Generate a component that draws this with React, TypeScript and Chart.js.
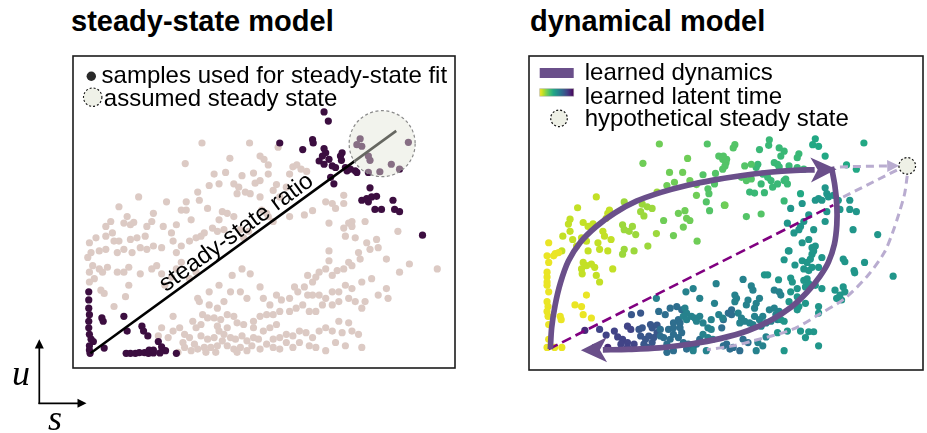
import React, { useEffect, useRef } from "react";
import { Chart, registerables } from "chart.js";

Chart.register(...registerables);

type P = [number, number];

// ================= steady-state model (left panel) =================
// coordinates: s (spliced, x) and u (unspliced, y), arbitrary units
const steadyFitSamples: P[] = [
  [79.5, 79], [80.8, 76.2], [66, 69.5], [76, 70.5], [76.2, 69.5], [73, 67.5], [79.5, 67.8], [80, 66.5],
  [79, 65.5], [78, 64], [81, 64.5], [79.5, 63], [82, 62.5], [85, 66.5], [84.5, 65.5], [84.8, 64.2],
  [83, 62], [86, 62], [86.5, 61], [87.5, 61.5], [89, 61], [89.5, 60.5], [93, 60.5], [81.5, 59], [82.5, 57],
  [90.5, 70.8], [89.5, 69], [91, 68.5], [93, 65.5], [93.5, 64.2], [100, 63], [96.5, 60.7], [102.5, 61.5], [105.2, 69.7],
  [93.5, 55.8], [91, 52], [92.5, 52.5], [94, 53], [95.5, 53.2], [93, 51.5], [100.5, 52], [95, 49.2], [97, 49.2],
  [101, 49.2], [102.5, 48.5], [109.5, 41.3],
  [7.8, 24], [7.8, 21.5], [7.8, 19], [8, 17], [7.8, 15], [7.8, 13], [8, 11], [8.5, 9.5], [9.2, 8.8], [8, 7.5],
  [8, 6.2], [8.2, 5.2], [11.8, 16], [12.2, 15], [12.5, 6.8], [18.5, 16.5], [19.5, 12], [24, 13.5], [24.5, 12],
  [25.8, 10.5], [19.2, 5.2], [20.5, 5.2], [22, 5.2], [23.2, 5.4], [24.8, 5.4], [26, 5.2], [27.5, 5.3], [26.2, 6.2],
  [27.5, 6.2], [29, 8.8], [30, 7.2], [31.2, 6], [29.5, 5.3], [34.5, 5.2],
];

const otherSamples: P[] = [
  [42.3, 69.5], [56.8, 69.5], [65.5, 68.2], [37.2, 63.2], [50.8, 64.8], [60, 65.5], [61.2, 64.5], [62.5, 62.8],
  [70, 62.2], [71.2, 62.8], [72.5, 61.5], [74.2, 60.8], [69, 60], [62.5, 60], [58, 60.3], [54.5, 59.5], [49.5, 60.5],
  [46, 60], [44.5, 56.5], [47.5, 57], [52, 57], [53.5, 56], [55.5, 54.5], [58.5, 57.2], [60, 58], [64, 55], [65, 56.8],
  [68, 56], [66, 53], [60, 53], [57, 54], [53, 54], [41, 54.5], [37.5, 51.5], [41.5, 52], [44, 49.5], [48.5, 48.5],
  [50, 48], [52, 47], [47.5, 46], [36, 49], [37.5, 49], [39, 46], [34.5, 44.5], [33, 42], [30.5, 44], [27.5, 48],
  [27, 45.5], [23, 53], [31.5, 51.5], [17, 50], [19.5, 47], [14.5, 45.5], [13, 44], [18.5, 45], [20.5, 44.5],
  [21.5, 45.2], [25.5, 44], [25, 41], [22.5, 40.5], [20.5, 40], [17, 39.5], [15.5, 39.5], [15, 42], [13, 41],
  [10, 40.5], [8, 39], [7.5, 34.5], [8.5, 36], [11, 36.5], [13, 37], [16.5, 36], [18.5, 37], [21, 36], [23.5, 37.5],
  [25.5, 37], [27.5, 38], [30, 37.5], [33.5, 39.5], [34.5, 36], [36, 38], [38.5, 39.5], [40.5, 40.5], [42, 41],
  [43, 42], [45.5, 43.5], [47, 42.5], [49, 43], [54, 43], [56.5, 42.5], [55, 40.5], [64, 45.5], [60.5, 49], [62, 48],
  [62.5, 47], [69, 47], [73.5, 47.5], [76, 48.8], [80, 51.5], [85.5, 53.5], [85.5, 51], [82, 51], [83, 49.5], [81, 45],
  [85.5, 43.5], [87, 45], [88, 45.5], [88, 44], [86, 41], [89, 40.5], [92, 45.5], [92.5, 39], [93.5, 37], [95.5, 40],
  [96, 37.5], [102, 42.5], [98.5, 34], [102.5, 30], [105.5, 32.5], [114, 31], [90, 36], [90.5, 34], [88, 32], [87, 33],
  [85.5, 31], [83.5, 30.5], [82, 29], [81, 36.5], [81, 33.5], [80, 31], [78, 30], [77, 28.5], [76, 27], [74.5, 29],
  [73.5, 25.5], [71.5, 24], [69, 22], [66.5, 21.5], [65, 23], [63, 20], [61, 22], [60, 25.5], [56, 22], [54, 24],
  [51, 24], [49, 21], [47, 19], [44.5, 20], [41.5, 21], [42.5, 17], [44, 16], [46, 16], [48, 15.5], [50, 17],
  [52, 16.5], [53, 14.5], [55, 14], [58, 15], [60, 16.5], [62, 17], [64, 17], [66, 18], [69, 18], [71, 19], [73, 20],
  [75, 18], [77, 18], [79, 20], [82, 20], [84, 21], [87, 22], [89, 21], [91, 19], [92, 21], [96, 23], [98.5, 25],
  [99, 22], [94, 28], [91, 27], [88, 25], [86, 26], [84, 24], [82, 24], [80, 22], [78, 23], [76, 23], [70.5, 25.5],
  [74.5, 23],
  [32, 10], [33.5, 12], [35.5, 13], [37, 11], [38.5, 10], [40.5, 13], [42, 10.5], [44, 9.5], [46, 10], [47.5, 12],
  [49, 11], [51, 10], [52.5, 9.5], [54.5, 10.5], [56, 9], [58, 10], [59.5, 9.5], [62, 8], [64, 9.5], [66, 10],
  [68, 11], [70, 10.5], [72, 12], [74, 11.5], [76, 10], [78, 12], [80, 13], [82, 12], [85, 11.5], [88, 12], [90, 11],
  [37, 7], [39, 6], [41, 6.5], [43, 7], [45, 7], [47, 7.5], [50, 7.5], [52, 6.5], [54, 7], [56, 6], [60, 6.5], [64, 7],
  [70, 7], [75, 7.5], [80, 6], [91, 7], [61, 12], [63, 13], [65, 14], [58, 13], [50, 13], [47, 13.5], [42, 14],
  [39.5, 15], [33.5, 16.5], [30, 13], [29, 10.5], [15.5, 19.5], [20, 26], [19, 22.5], [18.5, 30], [12, 30], [11, 31],
  [9.5, 28], [11.5, 24.5], [12.5, 23.5], [8, 30], [8, 27], [9, 32], [13.5, 31.5], [16.5, 30], [20, 31.5], [23.5, 29.5],
  [27, 31], [28.5, 32], [30, 29.5], [31, 26], [33, 28.5], [34.5, 31], [36, 33], [38.5, 28], [40.5, 30], [41, 22],
  [44.5, 24], [47.5, 26], [51.5, 29], [54.5, 31], [57, 29.5],
  [35, 5.5], [36.5, 8.5], [40, 8], [43.5, 5.5], [46.5, 5.5], [48.5, 9], [53, 5.5], [57.5, 7.5], [66, 6.5], [68, 8.5],
  [72, 8.5], [77, 7], [83, 8.5], [86, 7.5], [87, 14.5], [84, 15],
];

const steadyStateRatioLine: P[] = [[8.3, 5.2], [101.5, 73.2]];
const assumedSteadyState: P = [97.2, 69.3];

// ================= dynamical model (right panel) =================
// cells grouped by learned latent time (0 = start, 1 = end)
const latentTimes = [0.03, 0.09, 0.15, 0.22, 0.27, 0.33, 0.4, 0.48, 0.56, 0.64, 0.73, 0.8, 0.88];

const cellsT01: P[] = [
  [7.8, 39], [7.3, 35], [9.8, 35.7], [9.3, 35], [10.8, 36], [7.8, 33], [7.3, 30], [7.3, 28.5], [7.3, 27], [7.3, 26],
  [7.8, 24], [7.3, 21], [7.6, 19.5], [7.3, 18], [7.6, 16.5], [7.8, 14], [7.8, 9.5], [7.3, 7], [9.6, 7], [11.8, 7],
  [11.3, 16.5], [11.6, 15.5], [15.8, 20], [17.8, 19.5], [18.3, 17], [20.8, 16], [19.3, 23],
];
const cellsT02: P[] = [
  [22.3, 53], [16.6, 49.7], [26.3, 49], [25.8, 48], [25.3, 46.5], [14.3, 46.2], [13.8, 44.7], [18.3, 45.2], [19.8, 44],
  [21.3, 44.8], [14.3, 42.5], [12.1, 41], [15.1, 40], [17.8, 40.5], [19.3, 39.5], [11.8, 36.5], [24.3, 42.5], [24.8, 41],
  [26.8, 40], [22.8, 39], [23.3, 37], [25.8, 36.5], [16.3, 38], [19.8, 36.5], [18.3, 33], [19.3, 32], [20.8, 32.5],
  [17.8, 31], [18, 29.5], [21.8, 31.5], [22.3, 29], [23.3, 27], [27.3, 31],
];
const cellsT03: P[] = [
  [30.8, 51.5], [36.3, 50.8], [37.8, 50], [39.3, 49.5], [35.8, 48.5], [36.8, 47.2], [40.8, 54.5], [40.6, 41.8], [38, 38],
  [30.3, 44.5], [30.8, 43], [33.3, 44], [34.3, 41.5], [32.3, 42.5], [30.8, 37], [33.8, 36.5], [30.3, 35.5],
];
const cellsT04: P[] = [
  [41.5, 69.2], [36.5, 63.3], [50.1, 64.8], [44.6, 60.5], [48.6, 60.5], [46.1, 57.5], [43.8, 56.5], [50.8, 58],
  [52.8, 56.8], [52.8, 53.5], [42.8, 45.8], [47.3, 48], [49.3, 48.8], [49.8, 46.5], [50.8, 45.8], [48.8, 43.8],
  [45.8, 41.2], [53, 39.5], [61.5, 50.5],
];
const cellsT05: P[] = [
  [56.1, 69.2], [59.6, 65.5], [60.8, 64.5], [61.8, 63.5], [54.8, 59.8], [58.6, 60.2], [60.8, 61.5], [56.3, 55.5],
  [56.6, 54], [58.3, 57], [55.8, 51.5], [56.8, 48.8], [61.3, 50.5], [64.5, 69], [64, 68], [62, 64.5], [61, 65.5],
  [61.5, 62.5], [67.5, 62.5], [69.5, 63], [66.5, 59], [68, 58], [69.5, 58.5], [68, 47], [72.5, 47.8],
];
const cellsT06: P[] = [
  [75, 70.5], [74.8, 68.8], [72, 67.5], [78, 68], [79.5, 67], [78.5, 65.5], [84, 66.2], [83.5, 65], [71, 62], [71.5, 63],
  [76.5, 63.5], [77.5, 63], [78, 62.2], [81, 62.5], [83.5, 62], [85.5, 61.5], [73, 60], [74.5, 59], [75.5, 58], [76, 56],
  [77.5, 57], [79.5, 58], [80.5, 57], [80, 58.5], [72.5, 57], [69, 54.5], [70.5, 54.2], [73.5, 54.3], [79.5, 51.8],
];
const cellsT07: P[] = [
  [89, 70.8], [88.2, 69], [90, 68.5], [92, 65.5], [103.8, 69.5], [98.5, 62.8], [101.5, 61.5], [84.5, 54],
];
const cellsT08: P[] = [
  [92, 55.8], [92.5, 54], [90, 52.5], [89, 52], [91, 52], [93, 53], [94.5, 53.5], [96, 52], [96.5, 49.2], [99.5, 52],
  [99.5, 49.2], [101.5, 48.5], [92, 45.5], [92.5, 48.5], [87, 47.5], [85.5, 45.5], [84.5, 44], [84, 43], [81.5, 49.5],
  [85, 51], [80.5, 45], [82.5, 42], [85, 39], [87, 40], [88.5, 43], [88, 37.5], [89, 38], [88, 35.5], [81, 36.5],
  [100.5, 43], [108, 41.5], [80.8, 36.5], [79.5, 33.8], [82.8, 32.2], [85, 33.5], [85.5, 31], [86.5, 33], [87.5, 34],
  [88, 31.5], [87, 30.5], [88.5, 36.5], [91, 34.5], [90, 31.5], [97.5, 34], [98, 33.2], [104, 33], [100.8, 30.5],
  [101, 29.8], [112.7, 28.8], [73.5, 29.2], [74.5, 29.2], [81.5, 28.2], [82, 27], [77.8, 27.7], [85.5, 27.5], [86.5, 28],
  [86, 25.5], [87, 26.5], [89, 26], [91, 25], [95, 24.5], [95.5, 22], [96.5, 23], [97.5, 25.5], [98, 24], [97, 21.5],
  [81.5, 24], [83.5, 25], [83.5, 22.5], [81, 21], [84, 19.5], [83.5, 18.5], [86, 20.5], [90, 19.5], [90, 17.5],
  [78.5, 15.5], [79.5, 15], [77.5, 11.5], [80.5, 12], [84.5, 12], [86, 10], [87, 11.8], [88.5, 11.8], [90, 7.5], [79.5, 6],
];
const cellsT09: P[] = [
  [67, 27.8], [69.5, 25.8], [70, 24.5], [76.5, 24.5], [78, 24], [78.5, 23], [64.5, 23], [65, 22], [64.5, 21], [68.5, 21.5],
  [68, 20], [71, 20.5], [72, 22], [70.5, 19], [75, 18.5], [76.5, 19], [77, 17], [72, 15.5], [73, 16.5], [72.5, 13.5],
  [74, 14.5], [75.5, 15], [77.5, 15.5], [78, 18], [74, 10.2], [73, 7.5], [71.5, 8.5], [71, 6], [65.5, 17.5], [66.5, 16],
  [66, 14.5], [67.5, 15], [69, 14.5], [70.5, 16.5], [70, 14],
  [49.3, 19], [49.8, 17.5], [48.8, 16.5], [49.8, 15.5], [51.3, 16.5], [52.3, 16], [53.8, 16.5], [52.8, 15], [54.8, 14.5],
  [56.3, 13], [54.8, 11], [57.3, 12.5], [56.3, 10], [57.8, 9.5], [40.6, 22], [49.6, 24], [51.8, 25], [53.8, 22],
  [58.3, 20.5], [58.8, 26.5], [59.6, 17], [57.3, 15.5], [60.8, 16], [55.8, 6], [51.8, 6],
];
const cellsT10: P[] = [
  [63.5, 18.5], [62.5, 17.5], [63.5, 17], [61, 15.5], [60.5, 13], [68.5, 8.5], [67, 9.5], [66, 6], [64, 7], [63, 6.5],
  [62, 8], [61, 7.5], [41.8, 12.5], [41.8, 10.5], [42.8, 10], [43.8, 8], [44.8, 9.5], [45.8, 11], [44.3, 12.5], [45.8, 13],
  [47.8, 13], [48.3, 11.5], [47.3, 10], [48.8, 8.5], [50.3, 8], [51.8, 7], [49.8, 6.5], [52.8, 8], [53.8, 9.5], [41.3, 18],
  [43.3, 17], [44.8, 19], [46.8, 19.5], [48.3, 18.5], [45.8, 14.5], [47.3, 15.5], [47.8, 14.5], [43.8, 5.5], [45.8, 6],
];
const cellsT11: P[] = [
  [35.3, 12.5], [36.3, 13], [35.8, 10.5], [37.3, 9.5], [38.3, 10.5], [36.8, 8], [39.3, 8.5], [39.8, 10], [40.8, 11.5],
  [39.3, 13], [38.8, 14], [40.8, 13.8], [33, 17], [35.8, 17.5], [37.8, 7],
];
const cellsT12: P[] = [
  [23.3, 12.5], [25.3, 10.8], [27.8, 12], [28.8, 10.2], [30.3, 9.5], [31.8, 8.5], [29.8, 8], [31.8, 7], [33.8, 8],
  [31.8, 13.5], [32.8, 12.5],
];
const cellsT13: P[] = [[18.8, 12.2], [25.8, 7], [21.8, 7]];

const learnedDynamicsUp: P[] = [
  [8.3, 6.5], [8.7, 13], [9.75, 19.9], [11.4, 26.8], [13.8, 33.4], [17.4, 39.1], [22.2, 43.9], [27.9, 48.1],
  [34.5, 51.7], [42, 54.4], [49.8, 56.5], [57.9, 58.15], [66.3, 59.5], [75, 60.55], [82.8, 61.15], [88.8, 61.3],
];
const learnedDynamicsDown: P[] = [
  [93.9, 62.2], [94.95, 56.5], [95.55, 50.5], [95.55, 44.5], [94.8, 38.5], [93, 33.1], [90.3, 28.6], [86.4, 23.8],
  [81.6, 19.3], [75.6, 15.4], [68.4, 12.1], [60, 9.7], [51, 8.05], [41.4, 6.85], [32.1, 6.4], [24.3, 6.25],
];
const dynSteadyStateRatio: P[] = [[7.8, 6.5], [94.5, 50.5]];
const toSteadyStateA: P[] = [[96.5, 62.2], [111.5, 62.5]];
const toSteadyStateB: P[] = [[97.5, 53], [114, 61.3]];
const fromSteadyState: P[] = [
  [117, 59.5], [116.2, 54], [114.5, 48], [112.5, 42], [110, 36], [105, 29], [98, 22], [90, 17], [82, 12.5], [70, 9],
  [64, 7.5], [56, 6.3],
];
const hypotheticalSteadyState: P = [117, 62.5];

// ================= styling helpers =================
const FONT = '"Liberation Sans", Arial, Helvetica, sans-serif';
const VIRIDIS = [
  [68, 1, 84], [72, 36, 117], [65, 68, 135], [53, 95, 141], [42, 120, 142], [33, 145, 140],
  [34, 168, 132], [68, 191, 112], [122, 209, 81], [189, 223, 38], [253, 231, 37],
];
function viridis(v: number): string {
  const c = Math.max(0, Math.min(1, v)) * 10;
  const i = Math.min(9, Math.floor(c));
  const f = c - i;
  const a = VIRIDIS[i], b = VIRIDIS[i + 1];
  const m = (k: number) => Math.round(a[k] + (b[k] - a[k]) * f);
  return `rgb(${m(0)},${m(1)},${m(2)})`;
}
const timeColor = (t: number) => viridis(1 - t);

const toXY = (pts: P[]) => pts.map(([x, y]) => ({ x, y }));
const DYN = "#6a4f8a";
const LIGHT = "#b9acd0";
const DOT_R = 3.6;

function px(chart: any, p: P): [number, number] {
  return [chart.scales.x.getPixelForValue(p[0]), chart.scales.y.getPixelForValue(p[1])];
}

function arrowHead(ctx: CanvasRenderingContext2D, chart: any, pts: P[], lead: number, len: number, half: number, notch: number, color: string) {
  const a = px(chart, pts[pts.length - 2]);
  const b = px(chart, pts[pts.length - 1]);
  let dx = b[0] - a[0], dy = b[1] - a[1];
  const d = Math.hypot(dx, dy);
  dx /= d; dy /= d;
  const tx = b[0] + dx * lead, ty = b[1] + dy * lead;
  const nx = -dy, ny = dx;
  const bx = tx - dx * len, by = ty - dy * len;
  ctx.beginPath();
  ctx.moveTo(tx, ty);
  ctx.lineTo(bx + nx * half, by + ny * half);
  ctx.lineTo(tx - dx * (len - notch), ty - dy * (len - notch));
  ctx.lineTo(bx - nx * half, by - ny * half);
  ctx.closePath();
  ctx.fillStyle = color;
  ctx.fill();
}

function drawFrame(ctx: CanvasRenderingContext2D, a: any) {
  ctx.save();
  ctx.strokeStyle = "#1c1c1c";
  ctx.lineWidth = 1.6;
  ctx.setLineDash([]);
  ctx.strokeRect(a.left, a.top, a.right - a.left, a.bottom - a.top);
  ctx.restore();
}

const hidden = { type: "linear" as const, display: false };

function leftConfig(): any {
  const overlay = {
    id: "steadyOverlay",
    afterDatasetsDraw(chart: any) {
      const ctx: CanvasRenderingContext2D = chart.ctx;
      const a = chart.chartArea;
      ctx.save();
      // assumed steady state
      const [cx, cy] = px(chart, assumedSteadyState);
      ctx.beginPath();
      ctx.arc(cx, cy, 33, 0, Math.PI * 2);
      ctx.fillStyle = "rgba(226,229,214,0.45)";
      ctx.fill();
      ctx.setLineDash([3, 2.5]);
      ctx.lineWidth = 1.2;
      ctx.strokeStyle = "#8a8a8a";
      ctx.stroke();
      ctx.setLineDash([]);
      // steady-state ratio label
      const p0 = px(chart, steadyStateRatioLine[0]);
      const p1 = px(chart, steadyStateRatioLine[1]);
      const ang = Math.atan2(p1[1] - p0[1], p1[0] - p0[0]);
      ctx.save();
      ctx.translate((p0[0] + p1[0]) / 2, (p0[1] + p1[1]) / 2);
      ctx.rotate(ang);
      ctx.font = `24px ${FONT}`;
      ctx.fillStyle = "#000";
      ctx.textAlign = "center";
      ctx.textBaseline = "alphabetic";
      ctx.fillText("steady-state ratio", 0, -5);
      ctx.restore();
      // legend
      const L = a.left, T = a.top;
      ctx.beginPath();
      ctx.arc(L + 18.3, T + 20.3, 4.7, 0, Math.PI * 2);
      ctx.fillStyle = "#2a2a2a";
      ctx.fill();
      ctx.beginPath();
      ctx.arc(L + 19.7, T + 41.2, 9.2, 0, Math.PI * 2);
      ctx.fillStyle = "#eff1e8";
      ctx.fill();
      ctx.setLineDash([2, 2]);
      ctx.lineWidth = 1.1;
      ctx.strokeStyle = "#111";
      ctx.stroke();
      ctx.setLineDash([]);
      ctx.font = `24px ${FONT}`;
      ctx.fillStyle = "#000";
      ctx.textAlign = "left";
      ctx.textBaseline = "alphabetic";
      ctx.fillText("samples used for steady-state fit", L + 28.6, T + 27);
      ctx.fillText("assumed steady state", L + 30.8, T + 49.7);
      ctx.restore();
      drawFrame(ctx, a);
    },
  };
  return {
    type: "scatter",
    data: {
      datasets: [
        { label: "steady-state ratio", data: toXY(steadyStateRatioLine), showLine: true, borderColor: "#000", borderWidth: 2.6, pointRadius: 0, tension: 0, order: 1 },
        { label: "samples used for steady-state fit", data: toXY(steadyFitSamples), backgroundColor: "#3c0e40", pointRadius: DOT_R, pointBorderWidth: 0, borderWidth: 0, order: 2 },
        { label: "other samples", data: toXY(otherSamples), backgroundColor: "#dccac4", pointRadius: DOT_R, pointBorderWidth: 0, borderWidth: 0, order: 3 },
      ],
    },
    options: {
      responsive: false,
      animation: false,
      events: [],
      layout: { padding: 1 },
      scales: { x: { ...hidden, min: 3, max: 119.4 }, y: { ...hidden, min: 0.7, max: 96.1 } },
      plugins: { legend: { display: false }, tooltip: { enabled: false }, title: { display: false } },
    },
    plugins: [overlay],
  };
}

function rightConfig(): any {
  const groups = [cellsT01, cellsT02, cellsT03, cellsT04, cellsT05, cellsT06, cellsT07, cellsT08, cellsT09, cellsT10, cellsT11, cellsT12, cellsT13];
  const cellSets = groups.map((g, i) => ({
    label: `latent time ${latentTimes[i]}`,
    data: toXY(g),
    backgroundColor: timeColor(latentTimes[i]),
    pointRadius: DOT_R,
    pointBorderWidth: 0,
    borderWidth: 0,
    order: 10,
  }));
  const overlay = {
    id: "dynOverlay",
    afterDatasetsDraw(chart: any) {
      const ctx: CanvasRenderingContext2D = chart.ctx;
      const a = chart.chartArea;
      ctx.save();
      arrowHead(ctx, chart, toSteadyStateA, 10, 12, 6, 0, LIGHT);
      arrowHead(ctx, chart, learnedDynamicsUp, 22, 26, 12.5, 7, DYN);
      arrowHead(ctx, chart, learnedDynamicsDown, 22, 26, 12.5, 7, DYN);
      // hypothetical steady state
      const [hx, hy] = px(chart, hypotheticalSteadyState);
      ctx.beginPath();
      ctx.arc(hx, hy, 8.3, 0, Math.PI * 2);
      ctx.fillStyle = "#eef0e6";
      ctx.fill();
      ctx.setLineDash([2, 2]);
      ctx.lineWidth = 1.2;
      ctx.strokeStyle = "#111";
      ctx.stroke();
      ctx.setLineDash([]);
      // legend
      const L = a.left, T = a.top;
      ctx.fillStyle = DYN;
      ctx.fillRect(L + 10.7, T + 12, 34, 10);
      const g = ctx.createLinearGradient(L + 10.7, 0, L + 44.7, 0);
      for (let k = 0; k <= 10; k++) g.addColorStop(k / 10, viridis(1 - k / 10));
      ctx.fillStyle = g;
      ctx.fillRect(L + 10.7, T + 32.7, 34, 7.5);
      ctx.strokeStyle = "rgba(160,160,160,0.6)";
      ctx.lineWidth = 0.8;
      ctx.strokeRect(L + 10.7, T + 32.7, 34, 7.5);
      ctx.beginPath();
      ctx.arc(L + 30, T + 62.3, 8.3, 0, Math.PI * 2);
      ctx.fillStyle = "#eef0e6";
      ctx.fill();
      ctx.setLineDash([2, 2]);
      ctx.lineWidth = 1.2;
      ctx.strokeStyle = "#111";
      ctx.stroke();
      ctx.setLineDash([]);
      ctx.font = `24px ${FONT}`;
      ctx.fillStyle = "#000";
      ctx.textAlign = "left";
      ctx.textBaseline = "alphabetic";
      ctx.fillText("learned dynamics", L + 55.7, T + 23.7);
      ctx.fillText("learned latent time", L + 55.7, T + 47.7);
      ctx.fillText("hypothetical steady state", L + 55.7, T + 69.7);
      ctx.restore();
      drawFrame(ctx, a);
    },
  };
  return {
    type: "scatter",
    data: {
      datasets: [
        { label: "learned dynamics (up)", data: toXY(learnedDynamicsUp), showLine: true, borderColor: DYN, borderWidth: 5.7, tension: 0.3, pointRadius: 0, borderJoinStyle: "round", order: 1 },
        { label: "learned dynamics (down)", data: toXY(learnedDynamicsDown), showLine: true, borderColor: DYN, borderWidth: 5.7, tension: 0.3, pointRadius: 0, borderJoinStyle: "round", order: 1 },
        { label: "steady-state ratio", data: toXY(dynSteadyStateRatio), showLine: true, borderColor: "#800080", borderWidth: 2.6, borderDash: [10, 5], tension: 0, pointRadius: 0, order: 2 },
        { label: "to steady state A", data: toXY(toSteadyStateA), showLine: true, borderColor: LIGHT, borderWidth: 3, borderDash: [8, 5], tension: 0, pointRadius: 0, order: 3 },
        { label: "to steady state B", data: toXY(toSteadyStateB), showLine: true, borderColor: LIGHT, borderWidth: 3, borderDash: [8, 5], tension: 0, pointRadius: 0, order: 3 },
        { label: "from steady state", data: toXY(fromSteadyState), showLine: true, borderColor: LIGHT, borderWidth: 3, borderDash: [8, 5], tension: 0.3, pointRadius: 0, order: 3 },
        ...cellSets,
      ],
    },
    options: {
      responsive: false,
      animation: false,
      events: [],
      layout: { padding: 1 },
      scales: { x: { ...hidden, min: 1.8, max: 121.8 }, y: { ...hidden, min: 0.1, max: 96.1 } },
      plugins: { legend: { display: false }, tooltip: { enabled: false }, title: { display: false } },
    },
    plugins: [overlay],
  };
}

export default function App() {
  const leftRef = useRef<HTMLCanvasElement>(null);
  const rightRef = useRef<HTMLCanvasElement>(null);

  useEffect(() => {
    const left = new Chart(leftRef.current as HTMLCanvasElement, leftConfig());
    const right = new Chart(rightRef.current as HTMLCanvasElement, rightConfig());
    return () => {
      left.destroy();
      right.destroy();
    };
  }, []);

  const titleStyle: React.CSSProperties = {
    position: "absolute",
    top: 7,
    font: `bold 29px ${FONT}`,
    lineHeight: "28px",
    whiteSpace: "nowrap",
    color: "#000",
  };

  return (
    <div style={{ position: "fixed", left: 0, top: 0, width: 927, height: 433, overflow: "hidden", background: "#fff" }}>
      <div style={{ ...titleStyle, left: 71 }}>steady-state model</div>
      <div style={{ ...titleStyle, left: 530 }}>dynamical model</div>
      <canvas ref={leftRef} width={390} height={320} style={{ position: "absolute", left: 69, top: 52 }} />
      <canvas ref={rightRef} width={402} height={322} style={{ position: "absolute", left: 525, top: 52 }} />
      <svg width={120} height={113} style={{ position: "absolute", left: 0, top: 320 }}>
        <line x1={39.3} y1={84} x2={39.3} y2={27} stroke="#000" strokeWidth={1.7} />
        <polygon points="39.3,19.3 34.8,28.5 43.8,28.5" fill="#000" />
        <line x1={38.5} y1={83.3} x2={78} y2={83.3} stroke="#000" strokeWidth={1.7} />
        <polygon points="86.5,83.3 77.5,78.8 77.5,87.8" fill="#000" />
        <text x={12} y={65} fontFamily='"Liberation Serif", "Times New Roman", serif' fontStyle="italic" fontSize={36} fill="#000">u</text>
        <text x={48} y={110} fontFamily='"Liberation Serif", "Times New Roman", serif' fontStyle="italic" fontSize={36} fill="#000">s</text>
      </svg>
    </div>
  );
}
